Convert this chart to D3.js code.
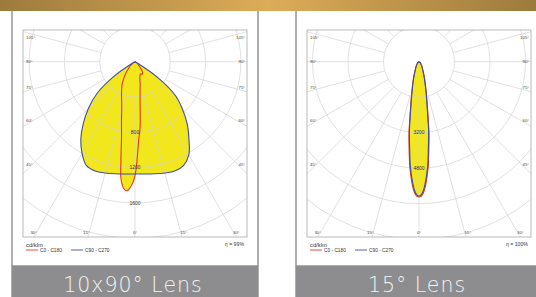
<!DOCTYPE html>
<html>
<head>
<meta charset="utf-8">
<script src="https://cdn.jsdelivr.net/npm/d3@7"></script>
<style>
  body { margin: 0; background: #fff; }
  svg { display: block; }
</style>
</head>
<body>
<div id="chart"></div>
<script>
// 10x90° lens, cd/klm, angle from nadir (negative = left side)
const c0Angles10x90 = [-90, -60, -50, -45, -40, -35, -30, -25, -20, -16, -13, -11, -10, -9, -8, -7, -6, -5, -4, -3, -2, -1, 0, 1, 2, 3, 4, 5, 6, 7, 8, 10, 13, 16, 20, 25, 30, 35, 40, 50, 60, 90];
const c0Values10x90 = [0, 20, 60, 100, 150, 210, 290, 360, 445, 545, 680, 800, 880, 1000, 1150, 1320, 1400, 1445, 1465, 1455, 1420, 1370, 1290, 1150, 980, 860, 790, 680, 560, 470, 410, 330, 260, 200, 165, 150, 165, 150, 100, 45, 15, 0];
const c90Angles10x90 = [-90, -70, -65, -60, -55, -50, -45, -40, -35, -30, -25, -20, -15, -10, -5, 0, 5, 10, 15, 20, 25, 30, 35, 40, 45, 50, 55, 60, 65, 70, 90];
const c90Values10x90 = [0, 0, 0, 20, 300, 565, 745, 910, 1070, 1200, 1300, 1318, 1305, 1290, 1278, 1272, 1278, 1290, 1305, 1318, 1300, 1220, 1065, 920, 760, 600, 320, 20, 0, 0, 0];

// 15° lens
const c0Angles15 = [-90, -60, -45, -30, -22, -18, -14, -12, -10, -9, -8, -7, -6, -5, -4, -3, -2, -1, 0, 1, 2, 3, 4, 5, 6, 7, 8, 9, 10, 12, 14, 18, 22, 30, 45, 60, 90];
const c0Values15 = [0, 30, 110, 280, 530, 820, 1300, 1680, 2250, 2680, 3250, 3700, 4200, 4750, 5200, 5600, 5900, 6060, 6100, 6060, 5900, 5600, 5200, 4750, 4200, 3700, 3250, 2680, 2250, 1680, 1300, 820, 530, 280, 110, 30, 0];
const c90Angles15 = [-90, -60, -45, -30, -22, -18, -14, -12, -10, -9, -8, -7, -6, -5, -4, -3, -2, -1, 0, 1, 2, 3, 4, 5, 6, 7, 8, 9, 10, 12, 14, 18, 22, 30, 45, 60, 90];
const c90Values15 = [0, 30, 100, 260, 500, 780, 1240, 1600, 2150, 2550, 3100, 3550, 4000, 4600, 5050, 5450, 5800, 5990, 6050, 5990, 5800, 5450, 5050, 4600, 4000, 3550, 3100, 2550, 2150, 1600, 1240, 780, 500, 260, 100, 30, 0];

const ringSteps = [400, 1600];
const ringLabels10x90 = [800, 1200, 1600];
const ringLabels15 = [3200, 4800];
const sideAngleLabels = [105, 90, 75, 60, 45];
const bottomAngleLabels = [-30, -15, 0, 15, 30];
const lensTitles = ["10x90° Lens", "15° Lens"];
const efficiencyLabels = ["η = 99%", "η = 100%"];
const legendLabels = ["C0 - C180", "C90 - C270"];
const unitLabel = "cd/klm";

const RED = "#e5352d", BLUE = "#3d4ea6", YELLOW = "#f1e71c";

const svg = d3.select("#chart").append("svg")
  .attr("width", 536).attr("height", 297)
  .style("font-family", "'Liberation Sans', Arial, sans-serif");
const defs = svg.append("defs");

const panels = [
  { x0: 12, cx: 135, step: ringSteps[0], c0: [c0Angles10x90, c0Values10x90], c90: [c90Angles10x90, c90Values10x90], rings: ringLabels10x90, title: lensTitles[0], eta: efficiencyLabels[0], radius: 35.3 },
  { x0: 296, cx: 419, step: ringSteps[1], c0: [c0Angles15, c0Values15], c90: [c90Angles15, c90Values15], rings: ringLabels15, title: lensTitles[1], eta: efficiencyLabels[1], radius: 35.5 }
];

const cy = 61.7, plotTop = 30, plotBottom = 237, halfW = 112;
const toRad = (a) => (a * Math.PI) / 180;

panels.forEach(function (p, i) {
  const g = svg.append("g");
  const left = p.cx - halfW, right = p.cx + halfW;

  // frame and grey caption bar
  g.append("rect").attr("x", p.x0).attr("y", 8).attr("width", 246).attr("height", 258)
    .attr("fill", "#fff").attr("stroke", "#8e8e8e").attr("stroke-width", 1.4);
  g.append("rect").attr("x", p.x0 - 0.7).attr("y", 266).attr("width", 247.4).attr("height", 31).attr("fill", "#8d8d8f");
  g.append("text").attr("x", p.cx - 2).attr("y", 291.7).attr("text-anchor", "middle")
    .attr("fill", "#f4f4f4").style("font-family", "'DejaVu Sans', sans-serif").style("font-weight", 200)
    .style("font-size", "20.5px").style("letter-spacing", "1px").text(p.title);

  const r = d3.scaleLinear().domain([0, p.step]).range([0, p.radius]);

  const clipId = "clip" + i;
  defs.append("clipPath").attr("id", clipId)
    .append("rect").attr("x", left).attr("y", plotTop).attr("width", halfW * 2).attr("height", plotBottom - plotTop);
  const plot = g.append("g").attr("clip-path", "url(#" + clipId + ")")
    .append("g").attr("transform", "translate(" + p.cx + "," + cy + ")");

  const radial = d3.lineRadial()
    .angle((d) => Math.PI - toRad(d[0]))
    .radius((d) => r(d[1]))
    .curve(d3.curveCatmullRom.alpha(0.5));
  const c0 = d3.zip(p.c0[0], p.c0[1]);
  const c90 = d3.zip(p.c90[0], p.c90[1]);

  plot.append("path").attr("d", radial(c0)).attr("fill", YELLOW);
  plot.append("path").attr("d", radial(c90)).attr("fill", YELLOW);

  // grid
  const maxR = 215;
  const ringVals = d3.range(p.step, r.invert(maxR), p.step);
  plot.selectAll(".ring").data(ringVals).enter().append("circle")
    .attr("r", (d) => r(d)).attr("fill", "none")
    .attr("stroke", "#d2d2d2").attr("stroke-opacity", 0.85).attr("stroke-width", 0.8);
  plot.selectAll(".spoke").data(d3.range(0, 360, 15)).enter().append("line")
    .attr("x1", (d) => r(p.step) * Math.sin(toRad(d))).attr("y1", (d) => r(p.step) * Math.cos(toRad(d)))
    .attr("x2", (d) => maxR * Math.sin(toRad(d))).attr("y2", (d) => maxR * Math.cos(toRad(d)))
    .attr("stroke", "#d2d2d2").attr("stroke-opacity", 0.85).attr("stroke-width", 0.8);

  plot.append("path").attr("d", radial(c0)).attr("fill", "none").attr("stroke", RED).attr("stroke-width", 1.1);
  plot.append("path").attr("d", radial(c90)).attr("fill", "none").attr("stroke", BLUE).attr("stroke-width", 1.1);

  plot.selectAll(".rl").data(p.rings).enter().append("text")
    .attr("x", 0).attr("y", (d) => r(d)).attr("dy", "0.35em")
    .attr("text-anchor", "middle").attr("fill", "#333").style("font-size", "5px").text((d) => d);

  // plot border
  g.append("rect").attr("x", left).attr("y", plotTop).attr("width", halfW * 2).attr("height", plotBottom - plotTop)
    .attr("fill", "none").attr("stroke", "#a8a8a8").attr("stroke-width", 0.8);

  // angle labels on sides
  sideAngleLabels.forEach(function (a) {
    const dx = halfW - 7;
    let y = a === 90 ? cy : cy + dx / Math.tan(toRad(a)) - 2;
    y = Math.max(y, plotTop + 7);
    [-1, 1].forEach(function (s) {
      g.append("text").attr("x", s < 0 ? left + 3 : right - 2).attr("y", y).attr("dy", "0.35em")
        .attr("text-anchor", s < 0 ? "start" : "end").attr("fill", "#444")
        .style("font-size", "4.3px").text(a + "°");
    });
  });
  bottomAngleLabels.forEach(function (a) {
    const yb = plotBottom - 5;
    const dx = Math.min((yb - cy) * Math.tan(toRad(Math.abs(a))) + (a === 0 ? 0 : 3), halfW - 7);
    g.append("text").attr("x", p.cx + Math.sign(a) * dx).attr("y", yb).attr("dy", "0.35em")
      .attr("text-anchor", "middle").attr("fill", "#444").style("font-size", "4.3px").text(Math.abs(a) + "°");
  });

  // legend
  g.append("text").attr("x", left + 3).attr("y", 244.5).attr("dy", "0.35em").attr("fill", "#333")
    .style("font-size", "5.8px").text(unitLabel);
  g.append("text").attr("x", right - 3).attr("y", 244.5).attr("dy", "0.35em").attr("text-anchor", "end")
    .attr("fill", "#333").style("font-size", "5.2px").text(p.eta);
  [RED, BLUE].forEach(function (c, k) {
    const lx = left + 3 + k * 45;
    g.append("line").attr("x1", lx).attr("x2", lx + 12).attr("y1", 250).attr("y2", 250)
      .attr("stroke", c).attr("stroke-width", 0.9);
    g.append("text").attr("x", lx + 14).attr("y", 250).attr("dy", "0.35em").attr("fill", "#333")
      .style("font-size", "4.8px").text(legendLabels[k]);
  });
});

// gold banner on top
const grad = defs.append("linearGradient").attr("id", "gold");
grad.append("stop").attr("offset", "0%").attr("stop-color", "#9d7b3d");
grad.append("stop").attr("offset", "50%").attr("stop-color", "#dcac58");
grad.append("stop").attr("offset", "100%").attr("stop-color", "#9d7b3d");
svg.append("rect").attr("x", 0).attr("y", 0).attr("width", 536).attr("height", 11).attr("fill", "url(#gold)");
</script>
</body>
</html>
